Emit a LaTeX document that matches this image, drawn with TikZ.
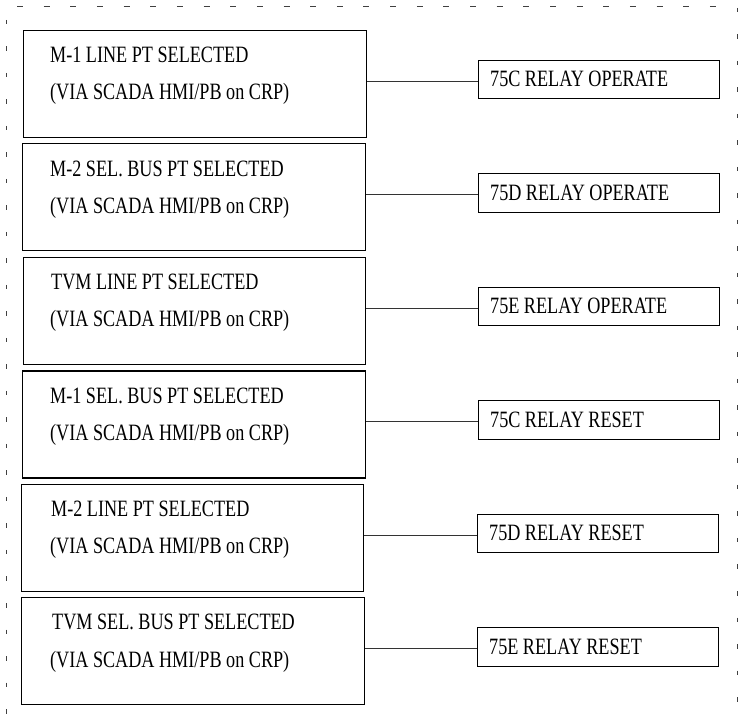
\documentclass[tikz,border=0pt]{standalone}
\usepackage{fontspec}
\setmainfont[FakeStretch=0.776]{Liberation Serif}
\begin{document}
\begin{tikzpicture}[x=1pt,y=-1pt,
  lbox/.style={draw=black,line width=1.1pt,anchor=north west,inner sep=0pt,minimum height=107pt},
  rbox/.style={draw=black,line width=1.1pt,anchor=west,inner sep=0pt,minimum width=241pt,minimum height=38.5pt},
  txt/.style={anchor=base west,inner sep=0pt,font=\fontsize{23.4}{28}\selectfont},
  conn/.style={draw=black!80,line width=0.9pt},
  brd/.style={draw=black!75,line width=1pt}]
\useasboundingbox (0,0) rectangle (748,719);
% dashed frame (top, left, right)
\draw[brd,dash pattern=on 6pt off 20.65pt] (17,7) -- (717,7);
\draw[brd,dash pattern=on 4.5pt off 22pt] (6,20) -- (6,719);
\draw[brd,dash pattern=on 4.5pt off 22pt] (737,8) -- (737,719);
% left boxes
\node[lbox,minimum width=343pt] (b1) at (23,30) {};
\node[lbox,minimum width=343pt] (b2) at (22,143.4) {};
\node[lbox,minimum width=342pt] (b3) at (23,257) {};
\node[lbox,minimum width=343pt] (b4) at (22,370.5) {};
\node[lbox,minimum width=342pt] (b5) at (21,484) {};
\node[lbox,minimum width=343pt] (b6) at (21,597) {};
% left texts
\node[txt] (t1a) at (50,63) {M-1 LINE PT SELECTED};
\node[txt] (t1b) at (50,100) {(VIA SCADA HMI/PB on CRP)};
\node[txt] (t2a) at (50,176.4) {M-2 SEL. BUS PT SELECTED};
\node[txt] (t2b) at (50,213.4) {(VIA SCADA HMI/PB on CRP)};
\node[txt] (t3a) at (51,290) {TVM LINE PT SELECTED};
\node[txt] (t3b) at (50,327) {(VIA SCADA HMI/PB on CRP)};
\node[txt] (t4a) at (50,403.5) {M-1 SEL. BUS PT SELECTED};
\node[txt] (t4b) at (50,440.5) {(VIA SCADA HMI/PB on CRP)};
\node[txt] (t5a) at (51,517) {M-2 LINE PT SELECTED};
\node[txt] (t5b) at (50,554) {(VIA SCADA HMI/PB on CRP)};
\node[txt] (t6a) at (52,630) {TVM SEL. BUS PT SELECTED};
\node[txt] (t6b) at (50,667) {(VIA SCADA HMI/PB on CRP)};
% right boxes
\node[rbox] (r1) at (478,79.5) {};
\node[rbox] (r2) at (478,193) {};
\node[rbox] (r3) at (478,306.5) {};
\node[rbox] (r4) at (478,420) {};
\node[rbox] (r5) at (477,533.5) {};
\node[rbox] (r6) at (477,647) {};
% right texts
\node[txt] (s1) at (490,87) {75C RELAY OPERATE};
\node[txt] (s2) at (490,200.5) {75D RELAY OPERATE};
\node[txt] (s3) at (490,314) {75E RELAY OPERATE};
\node[txt] (s4) at (490,427.5) {75C RELAY RESET};
\node[txt] (s5) at (489,541) {75D RELAY RESET};
\node[txt] (s6) at (489,654.5) {75E RELAY RESET};
% connectors
\foreach \i in {1,...,6}{
  \draw[conn] ([yshift=-1.5pt]r\i.west -| b\i.east) -- ([yshift=-1.5pt]r\i.west);
}
\end{tikzpicture}
\end{document}
